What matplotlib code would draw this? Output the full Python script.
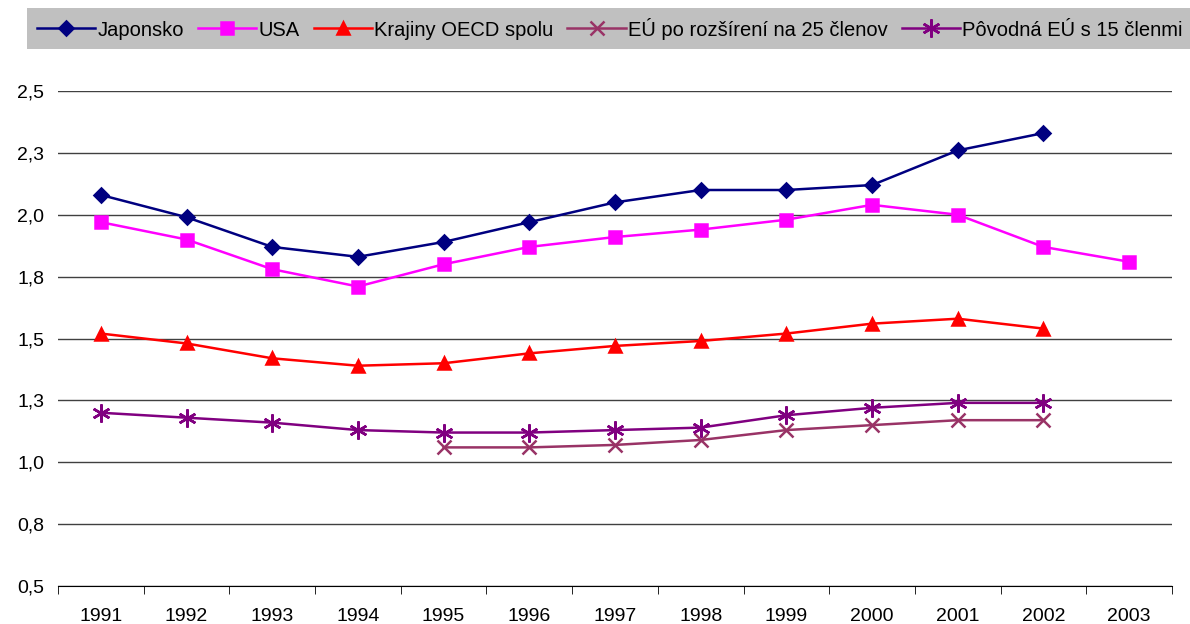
import matplotlib.pyplot as plt
from decimal import Decimal, ROUND_HALF_UP
from matplotlib.patches import Rectangle
from matplotlib.ticker import FuncFormatter

plt.rcParams['font.family'] = ['Liberation Sans', 'DejaVu Sans']

years = [1991, 1992, 1993, 1994, 1995, 1996, 1997, 1998, 1999, 2000, 2001, 2002, 2003]

japonsko = [2.08, 1.99, 1.87, 1.83, 1.89, 1.97, 2.05, 2.10, 2.10, 2.12, 2.26, 2.33, None]
usa = [1.97, 1.90, 1.78, 1.71, 1.80, 1.87, 1.91, 1.94, 1.98, 2.04, 2.00, 1.87, 1.81]
oecd = [1.52, 1.48, 1.42, 1.39, 1.40, 1.44, 1.47, 1.49, 1.52, 1.56, 1.58, 1.54, None]
eu25 = [None, None, None, None, 1.06, 1.06, 1.07, 1.09, 1.13, 1.15, 1.17, 1.17, None]
eu15 = [1.20, 1.18, 1.16, 1.13, 1.12, 1.12, 1.13, 1.14, 1.19, 1.22, 1.24, 1.24, None]

labels = ["Japonsko", "USA", "Krajiny OECD spolu",
          "EÚ po rozšírení na 25 členov", "Pôvodná EÚ s 15 členmi"]


def clean(vals):
    xs = [i for i, v in enumerate(vals) if v is not None]
    ys = [v for v in vals if v is not None]
    return xs, ys


def excel_fmt(v, pos):
    # Excel rounds half up: 2.25 -> 2,3
    d = Decimal(str(round(v, 4))).quantize(Decimal('0.1'), rounding=ROUND_HALF_UP)
    return str(d).replace('.', ',')


fig = plt.figure(figsize=(11.9, 6.24), dpi=100)
ax = fig.add_axes([58 / 1190, 38 / 624, (1172 - 58) / 1190, (586 - 91) / 624])

series = [
    (japonsko, '#000080', 'D', 7.5),
    (usa, '#FF00FF', 's', 8),
    (oecd, '#FF0000', '^', 9),
    (eu25, '#993366', 'x', 10),
    (eu15, '#800080', (6, 2, 0), 13),
]

for (vals, color, marker, size), label in zip(series, labels):
    xs, ys = clean(vals)
    ax.plot(xs, ys, color=color, marker=marker, markersize=size, lw=1.8,
            markeredgewidth=1.8, label=label)

ax.set_xlim(-0.5, len(years) - 0.5)
ax.set_ylim(0.5, 2.5)
ax.set_yticks([0.5 + 0.25 * i for i in range(9)])
ax.yaxis.set_major_formatter(FuncFormatter(excel_fmt))
ax.set_xticks(range(len(years)))
ax.set_xticklabels([str(y) for y in years])
ax.set_xticks([i - 0.5 for i in range(len(years) + 1)], minor=True)
ax.tick_params(axis='x', which='major', length=0, pad=16, labelsize=14)
ax.tick_params(axis='x', which='minor', length=6, color='black')
ax.tick_params(axis='y', length=0, pad=10, labelsize=14)
ax.grid(axis='y', color='#404040', lw=1)
ax.set_axisbelow(True)
for side in ['top', 'right', 'left']:
    ax.spines[side].set_visible(False)
ax.spines['bottom'].set_color('black')

fig.patches.append(Rectangle((27 / 1190, 1 - 49 / 624), 1 - 27 / 1190, 41 / 624,
                             transform=fig.transFigure, facecolor='#C0C0C0',
                             edgecolor='none', zorder=0))
fig.legend(loc='center left', bbox_to_anchor=(37 / 1190, 1 - 28.5 / 624), ncol=5,
           frameon=False, fontsize=14.5, handlelength=2.9, handletextpad=0.1,
           columnspacing=0.7, borderaxespad=0, borderpad=0)

fig.savefig('out.png', dpi=100)
